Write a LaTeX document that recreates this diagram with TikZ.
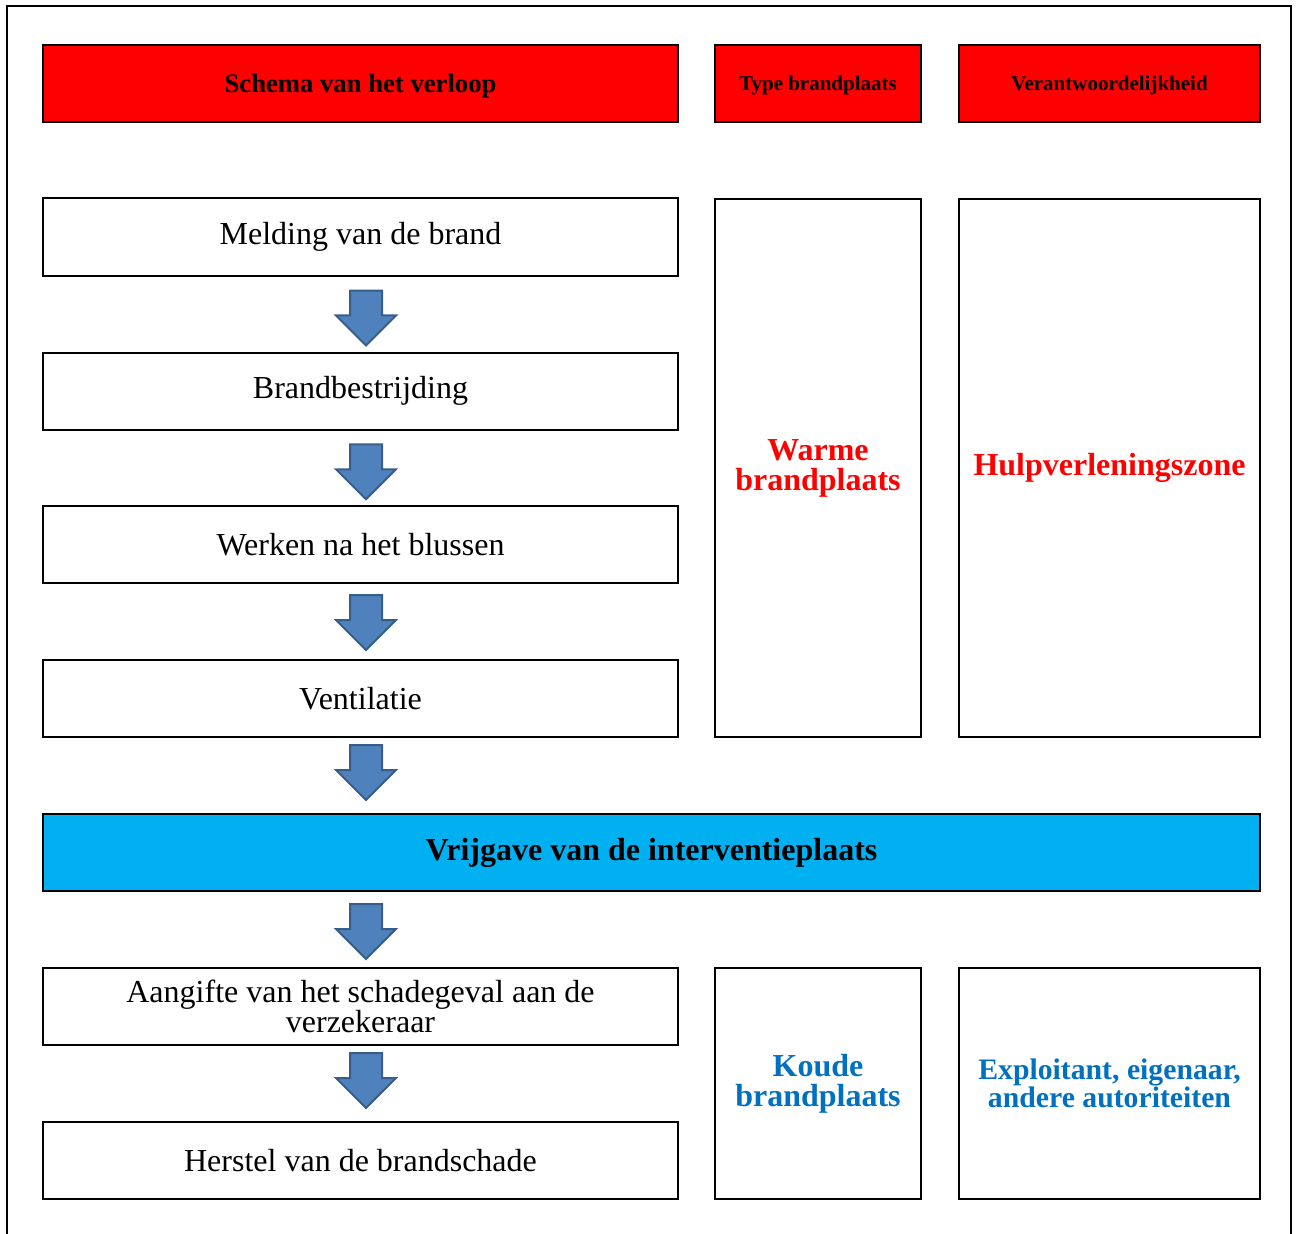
\documentclass[tikz,border=0pt]{standalone}
\usepackage{fontspec}
\setmainfont{Liberation Serif}
\usetikzlibrary{calc,
                positioning,
                shapes.arrows
                }
\definecolor{kopred}{RGB}{255,0,0}
\definecolor{vrijblue}{RGB}{0,176,240}
\definecolor{koudblue}{RGB}{0,112,192}
\definecolor{pijlfill}{RGB}{79,129,189}
\definecolor{pijldraw}{RGB}{56,93,138}

\begin{document}
\begin{tikzpicture}[x=0.75pt, y=-0.75pt,
    vak/.style={draw, line width=1.5pt, inner sep=0pt, align=center},
    stap/.style={vak, minimum width=476.25pt, minimum height=57.75pt,
                 font=\fontsize{24}{20}\selectfont},
    kop/.style={vak, fill=kopred, minimum height=57.75pt, text depth=0pt,
                font=\fontsize{15.75}{18}\selectfont\bfseries},
    pijl/.style={single arrow, rotate=-90, fill=pijlfill, draw=pijldraw,
                 line width=1.5pt, inner xsep=0pt, inner ysep=11.25pt,
                 single arrow head extend=10.5pt, minimum height=41.25pt}
    ]
    \useasboundingbox (0,0) rectangle (1296,1234);
    \draw[line width=1.5pt] (7,1240) -- (7,6) -- (1291,6) -- (1291,1240);

    % koppen
    \node[kop, minimum width=476.25pt, font=\fontsize{20}{22}\selectfont\bfseries]
        (schema) at (360.5,83.5) {Schema van het verloop};
    \node[kop, minimum width=154.5pt] (type) at (818,83.5) {Type brandplaats};
    \node[kop, minimum width=225.75pt] (verant) at (1109.5,83.5) {Verantwoordelijkheid};

    % verloop
    \node[stap] (melding) at (360.5,237) {Melding van de brand};
    \node[stap] (brand) at (360.5,391) {Brandbestrijding};
    \node[stap] (werken) at (360.5,544.5) {Werken na het blussen};
    \node[stap] (vent) at (360.5,698.5) {Ventilatie};
    \node[vak, fill=vrijblue, minimum width=912.75pt, minimum height=57.75pt,
          font=\fontsize{24}{20}\selectfont\bfseries]
        (vrij) at (651.5,852.5) {Vrijgave van de interventieplaats};
    \node[stap] (aangifte) at (360.5,1006.5) {Aangifte van het schadegeval aan de\\verzekeraar};
    \node[stap] (herstel) at (360.5,1160.5) {Herstel van de brandschade};

    % kolommen
    \node[vak, minimum width=154.5pt, minimum height=403.5pt, text=kopred,
          font=\fontsize{24}{22.5}\selectfont\bfseries]
        (warm) at (818,468) {Warme\\brandplaats};
    \node[vak, minimum width=225.75pt, minimum height=403.5pt, text=kopred,
          font=\fontsize{24}{20}\selectfont\bfseries]
        (hulp) at (1109.5,468) {Hulpverleningszone};
    \node[vak, minimum width=154.5pt, minimum height=173.25pt, text=koudblue,
          font=\fontsize{24}{22.5}\selectfont\bfseries]
        (koud) at (818,1083.5) {Koude\\brandplaats};
    \node[vak, minimum width=225.75pt, minimum height=173.25pt, text=koudblue,
          font=\fontsize{22.3}{20.5}\selectfont\bfseries]
        (expl) at (1109.5,1083.5) {Exploitant, eigenaar,\\andere autoriteiten};

    % pijlen
    \node[pijl] (p1) at ($(melding.south)!0.5!(brand.north)+(5.5,-4)$) {};
    \node[pijl] (p2) at ($(brand.south)!0.5!(werken.north)+(5.5,-4)$) {};
    \node[pijl] (p3) at ($(werken.south)!0.5!(vent.north)+(5.5,-7)$) {};
    \node[pijl] (p4) at ($(vent.south)!0.5!(vrij.north -| vent.north)+(5.5,-11)$) {};
    \node[pijl] (p5) at ($(vrij.south -| aangifte.north)!0.5!(aangifte.north)+(5.5,-6)$) {};
    \node[pijl] (p6) at ($(aangifte.south)!0.5!(herstel.north)+(5.5,-11)$) {};
\end{tikzpicture}
\end{document}
